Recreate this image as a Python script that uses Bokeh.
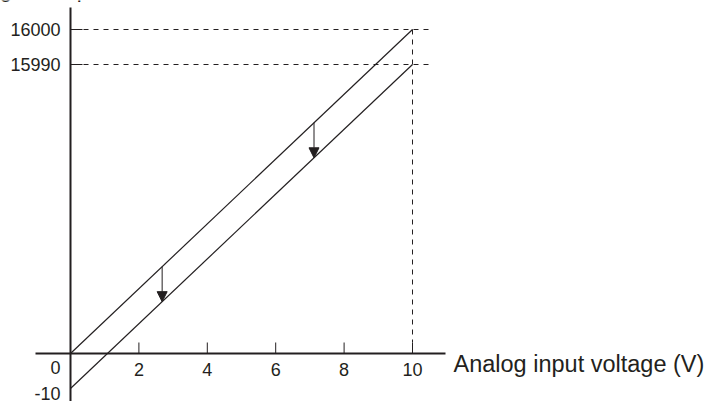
import numpy as np
from bokeh.plotting import figure
from bokeh.models import Arrow, NormalHead
from bokeh.core.properties import value
from bokeh.embed import file_html
from bokeh.resources import INLINE

# ---- data ----
x_line = [0, 10]                 # analog input voltage (V)
upper_vals = [0, 16000]          # digital output before offset
lower_vals = [-10, 15990]        # digital output after offset
x_ticks = [2, 4, 6, 8, 10]
x_tick_labels = ["2", "4", "6", "8", "10"]
y_marks = [16000, 15990]
y_mark_labels = ["16000", "15990"]
origin_labels = ["0", "-10"]
arrow_x = [2.68, 7.12]
x_title = "Analog input voltage (V)"
y_title = "Digital output value"

# schematic (not-to-scale) vertical axis: value -> drawing position
sch_vals = [-10, 0, 15990, 16000]
sch_pos = [-35, 0, 289, 324]
def ypos(v):
    return np.interp(v, sch_vals, sch_pos)

INK = "#231f20"
FONT = value("Liberation Sans")

W, H = 710, 401
px_per_v = 34.2
x0 = 70
p = figure(width=W, height=H, output_backend="svg", toolbar_location=None,
           x_range=(-x0 / px_per_v, (W - x0) / px_per_v), y_range=(-48, 353),
           min_border=0)
p.axis.visible = False
p.grid.visible = False
p.outline_line_color = None
p.background_fill_color = "white"

def vx(px):  # pixel offset -> volts
    return px / px_per_v

# axes
p.segment(x0=[0], y0=[ypos(16000) + 22], x1=[0], y1=[-60], line_color=INK, line_width=2)
p.segment(x0=[vx(-35)], y0=[0], x1=[vx(375)], y1=[0], line_color=INK, line_width=2)

# x ticks (pointing up)
p.segment(x0=x_ticks, y0=[0] * len(x_ticks), x1=x_ticks, y1=[11] * len(x_ticks),
          line_color=INK, line_width=1)
# y ticks (pointing right)
ym = list(ypos(y_marks))
p.segment(x0=[0] * 2, y0=ym, x1=[vx(12)] * 2, y1=ym, line_color=INK, line_width=1)

# dashed guides
p.segment(x0=[vx(13)] * 2, y0=ym, x1=[vx(361)] * 2, y1=ym,
          line_color=INK, line_width=1, line_dash="5 5")
p.segment(x0=[x_line[1]], y0=[ypos(16000)], x1=[x_line[1]], y1=[11],
          line_color=INK, line_width=1, line_dash="5 5")

# characteristic lines
p.line(x_line, list(ypos(upper_vals)), line_color=INK, line_width=1.2)
p.line(x_line, list(ypos(lower_vals)), line_color=INK, line_width=1.2)

# arrows from upper to lower line
ua = np.interp(arrow_x, x_line, ypos(upper_vals))
la = np.interp(arrow_x, x_line, ypos(lower_vals))
for xa, yu, yl in zip(arrow_x, ua, la):
    p.add_layout(Arrow(end=NormalHead(size=10, fill_color=INK, line_color=INK),
                       x_start=xa, y_start=yu, x_end=xa, y_end=yl,
                       line_color=INK, line_width=1))

# labels
p.text(x=x_ticks, y=[-16] * len(x_ticks), text=x_tick_labels, text_font=FONT,
       text_font_size="18px", text_color=INK, text_align="center", text_baseline="middle")
p.text(x=[vx(-10)] * 2, y=ym, text=y_mark_labels, text_font=FONT,
       text_font_size="18px", text_color=INK, text_align="right", text_baseline="middle")
p.text(x=[vx(-10)] * 2, y=[-14, -40], text=origin_labels, text_font=FONT,
       text_font_size="18px", text_color=INK, text_align="right", text_baseline="middle")
p.text(x=[vx(383)], y=[-10], text=[x_title], text_font=FONT,
       text_font_size="23.5px", text_color=INK, text_align="left", text_baseline="alphabetic")
p.text(x=[vx(2)], y=[352], text=[y_title], text_font=FONT, y_offset=-12,
       text_font_size="22px", text_color=INK, text_align="center", text_baseline="alphabetic")

open("out.html", "w").write(file_html(p, INLINE))
